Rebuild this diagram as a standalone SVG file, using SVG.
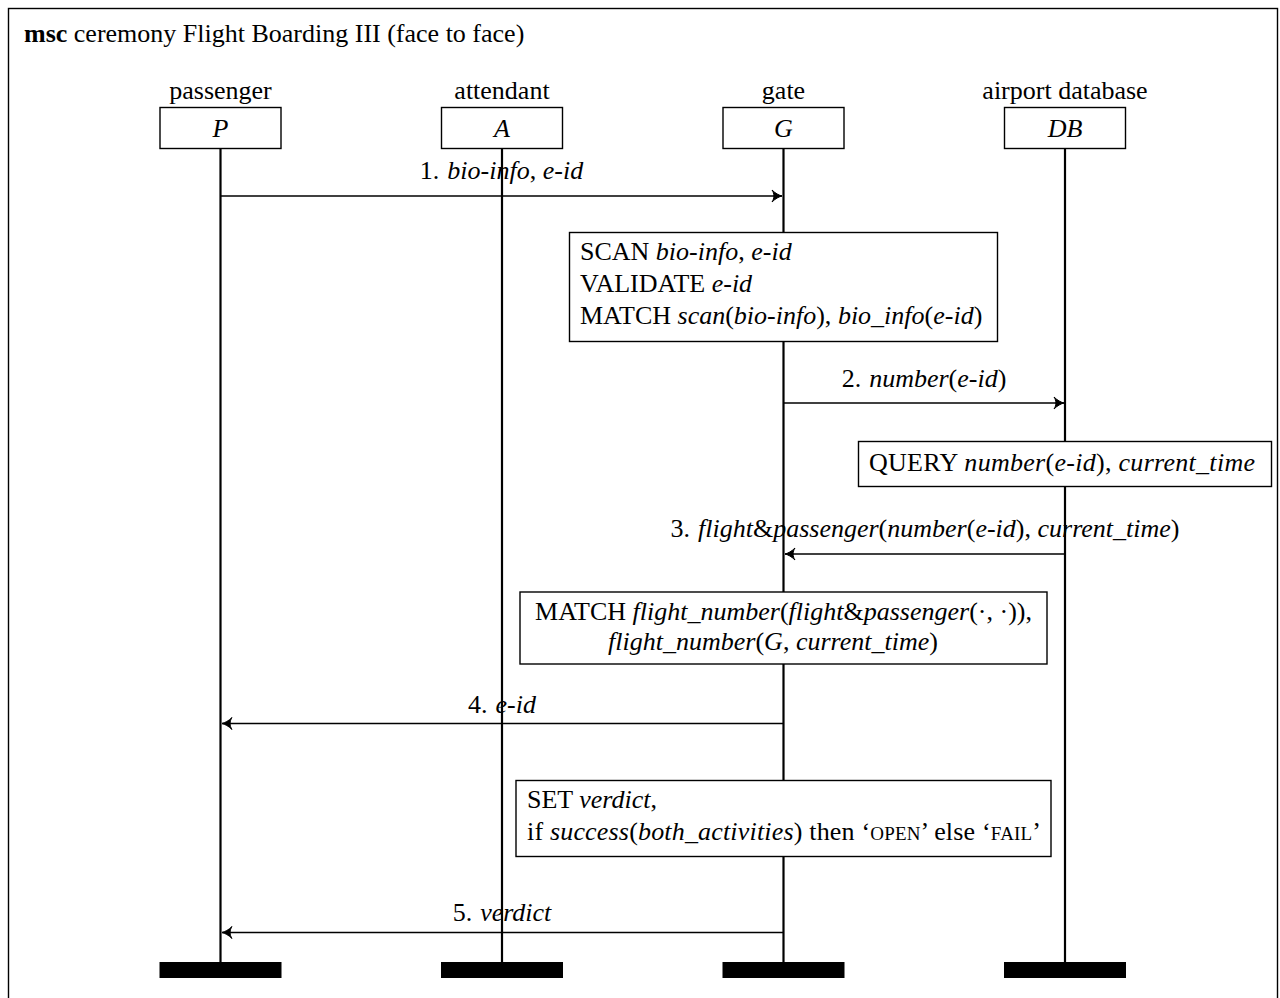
<svg xmlns="http://www.w3.org/2000/svg" width="1280" height="998" viewBox="0 0 1280 998">
<style>
.t{font-family:"Liberation Serif","DejaVu Serif",serif;font-size:26px;fill:#000}
.i{font-style:italic}
.b{font-weight:bold}
.sc{font-size:19px}
.box{fill:#fff;stroke:#000;stroke-width:1.4}
.life{stroke:#000;stroke-width:2.2;fill:none}
.msg{stroke:#000;stroke-width:1.5;fill:none;marker-end:url(#arr)}
.bar{fill:#000}
</style>
<defs>
<marker id="arr" markerUnits="userSpaceOnUse" orient="auto" markerWidth="14" markerHeight="14" viewBox="-11 -7 13 14" refX="0" refY="0" overflow="visible">
<path d="M -10 -6 C -6.5 -2.5 -3 -0.8 0 0 C -3 0.8 -6.5 2.5 -10 6 C -7.5 2.5 -7.5 -2.5 -10 -6 Z" fill="#000" stroke="#000" stroke-width="1" stroke-linejoin="round"/>
</marker>
</defs>
<rect x="8.5" y="8.5" width="1269" height="1010" fill="#fff" stroke="#000" stroke-width="1.4"/>
<text class="t" x="24" y="42"><tspan class="b">msc</tspan> ceremony Flight Boarding III (face to face)</text>

<g id="lifelines">
<line class="life" x1="220.5" y1="149" x2="220.5" y2="962"/>
<line class="life" x1="502" y1="149" x2="502" y2="962"/>
<line class="life" x1="783.5" y1="149" x2="783.5" y2="962"/>
<line class="life" x1="1065" y1="149" x2="1065" y2="962"/>
</g>

<g id="P">
<text class="t" x="220.5" y="99" text-anchor="middle">passenger</text>
<rect class="box" x="160" y="107.5" width="121" height="41"/>
<text class="t i" x="220.5" y="137" text-anchor="middle">P</text>
<rect class="bar" x="159.5" y="962" width="122" height="16"/>
</g>
<g id="A">
<text class="t" x="502" y="99" text-anchor="middle">attendant</text>
<rect class="box" x="441.5" y="107.5" width="121" height="41"/>
<text class="t i" x="502" y="137" text-anchor="middle">A</text>
<rect class="bar" x="441" y="962" width="122" height="16"/>
</g>
<g id="G">
<text class="t" x="783.5" y="99" text-anchor="middle">gate</text>
<rect class="box" x="723" y="107.5" width="121" height="41"/>
<text class="t i" x="783.5" y="137" text-anchor="middle">G</text>
<rect class="bar" x="722.5" y="962" width="122" height="16"/>
</g>
<g id="DB">
<text class="t" x="1065" y="99" text-anchor="middle">airport database</text>
<rect class="box" x="1004.5" y="107.5" width="121" height="41"/>
<text class="t i" x="1065" y="137" text-anchor="middle">DB</text>
<rect class="bar" x="1004" y="962" width="122" height="16"/>
</g>

<g id="connectors">
<line class="msg" x1="220.5" y1="196" x2="782" y2="196"/>
<line class="msg" x1="783.5" y1="403" x2="1064" y2="403"/>
<line class="msg" x1="1065" y1="554" x2="785" y2="554"/>
<line class="msg" x1="783.5" y1="723.5" x2="222" y2="723.5"/>
<line class="msg" x1="783.5" y1="932.5" x2="222" y2="932.5"/>
</g>

<g id="labels">
<text class="t" x="501.5" y="179" text-anchor="middle">1.<tspan dx="8" class="i">bio-info</tspan>, <tspan class="i">e-id</tspan></text>
<text class="t" x="924" y="387" text-anchor="middle">2.<tspan dx="8" class="i">number</tspan>(<tspan class="i">e-id</tspan>)</text>
<text class="t" x="925" y="537" text-anchor="middle">3.<tspan dx="8" class="i">flight</tspan>&amp;<tspan class="i">passenger</tspan>(<tspan class="i">number</tspan>(<tspan class="i">e-id</tspan>), <tspan class="i">current_time</tspan>)</text>
<text class="t" x="502" y="713" text-anchor="middle">4.<tspan dx="8" class="i">e-id</tspan></text>
<text class="t" x="502" y="921" text-anchor="middle">5.<tspan dx="8" class="i">verdict</tspan></text>
</g>

<g id="scan">
<rect class="box" x="569.5" y="232.5" width="428" height="109"/>
<text class="t" x="580" y="260">SCAN <tspan class="i">bio-info</tspan>, <tspan class="i">e-id</tspan></text>
<text class="t" x="580" y="292">VALIDATE <tspan class="i">e-id</tspan></text>
<text class="t" x="580" y="324">MATCH <tspan class="i">scan</tspan>(<tspan class="i">bio-info</tspan>), <tspan class="i">bio_info</tspan>(<tspan class="i">e-id</tspan>)</text>
</g>

<g id="query">
<rect class="box" x="858.5" y="441.5" width="413" height="45"/>
<text class="t" x="869" y="471" textLength="386" lengthAdjust="spacing">QUERY <tspan class="i">number</tspan>(<tspan class="i">e-id</tspan>), <tspan class="i">current_time</tspan></text>
</g>

<g id="match">
<rect class="box" x="520" y="592" width="527" height="72"/>
<text class="t" x="783.5" y="620" text-anchor="middle">MATCH <tspan class="i">flight_number</tspan>(<tspan class="i">flight</tspan>&amp;<tspan class="i">passenger</tspan>(·, ·)),</text>
<text class="t" x="773" y="650" text-anchor="middle"><tspan class="i">flight_number</tspan>(<tspan class="i">G</tspan>, <tspan class="i">current_time</tspan>)</text>
</g>

<g id="set">
<rect class="box" x="516" y="780.5" width="535" height="76"/>
<text class="t" x="527" y="808">SET <tspan class="i">verdict</tspan>,</text>
<text class="t" x="527" y="840" textLength="514" lengthAdjust="spacing">if <tspan class="i">success</tspan>(<tspan class="i">both_activities</tspan>) then ‘<tspan class="sc">OPEN</tspan>’ else ‘<tspan class="sc">FAIL</tspan>’</text>
</g>
</svg>
